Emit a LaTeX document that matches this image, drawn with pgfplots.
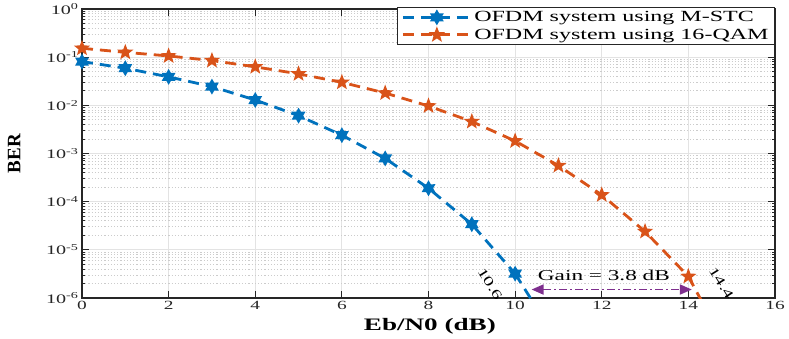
\documentclass[border=0pt]{standalone}
\usepackage{fontspec}
\setmainfont{Liberation Serif}[FakeStretch=1.55]
\newfontfamily\plainserif{Liberation Serif}
\usepackage{pgfplots}
\pgfplotsset{compat=1.18}
\usetikzlibrary{arrows.meta}

\definecolor{mblue}{RGB}{0,114,189}
\definecolor{morange}{RGB}{217,83,25}
\definecolor{mpurple}{RGB}{126,47,142}
\definecolor{maxis}{RGB}{38,38,38}

\pgfdeclareplotmark{fivestar}{%
  \pgfpathmoveto{\pgfpointpolar{90}{\pgfplotmarksize}}%
  \pgfpathlineto{\pgfpointpolar{126}{0.42\pgfplotmarksize}}%
  \pgfpathlineto{\pgfpointpolar{162}{\pgfplotmarksize}}%
  \pgfpathlineto{\pgfpointpolar{198}{0.42\pgfplotmarksize}}%
  \pgfpathlineto{\pgfpointpolar{234}{\pgfplotmarksize}}%
  \pgfpathlineto{\pgfpointpolar{270}{0.42\pgfplotmarksize}}%
  \pgfpathlineto{\pgfpointpolar{306}{\pgfplotmarksize}}%
  \pgfpathlineto{\pgfpointpolar{342}{0.42\pgfplotmarksize}}%
  \pgfpathlineto{\pgfpointpolar{18}{\pgfplotmarksize}}%
  \pgfpathlineto{\pgfpointpolar{54}{0.42\pgfplotmarksize}}%
  \pgfpathclose\pgfusepathqfill}

\pgfdeclareplotmark{sixstar}{%
  \pgfpathmoveto{\pgfpointpolar{90}{\pgfplotmarksize}}%
  \pgfpathlineto{\pgfpointpolar{120}{0.577\pgfplotmarksize}}%
  \pgfpathlineto{\pgfpointpolar{150}{\pgfplotmarksize}}%
  \pgfpathlineto{\pgfpointpolar{180}{0.577\pgfplotmarksize}}%
  \pgfpathlineto{\pgfpointpolar{210}{\pgfplotmarksize}}%
  \pgfpathlineto{\pgfpointpolar{240}{0.577\pgfplotmarksize}}%
  \pgfpathlineto{\pgfpointpolar{270}{\pgfplotmarksize}}%
  \pgfpathlineto{\pgfpointpolar{300}{0.577\pgfplotmarksize}}%
  \pgfpathlineto{\pgfpointpolar{330}{\pgfplotmarksize}}%
  \pgfpathlineto{\pgfpointpolar{0}{0.577\pgfplotmarksize}}%
  \pgfpathlineto{\pgfpointpolar{30}{\pgfplotmarksize}}%
  \pgfpathlineto{\pgfpointpolar{60}{0.577\pgfplotmarksize}}%
  \pgfpathclose\pgfusepathqfill}

\begin{document}
\begin{tikzpicture}
\path[use as bounding box] (-82pt,-40pt) rectangle (707pt,298pt);
\begin{axis}[
  scale only axis,
  width=693pt, height=289pt,
  at={(0,0)}, anchor=south west,
  ymode=log,
  xmin=0, xmax=16, ymin=1e-6, ymax=1,
  xtick={0,2,...,16},
  ytick={1e-6,1e-5,1e-4,1e-3,1e-2,1e-1,1},
  yticklabels={10\textsuperscript{-6},10\textsuperscript{-5},10\textsuperscript{-4},10\textsuperscript{-3},10\textsuperscript{-2},10\textsuperscript{-1},10\textsuperscript{0}},
  /pgf/number format/assume math mode=true,
  tick label style={font=\fontsize{12.5}{14}\selectfont, text=maxis},
  yticklabel style={font=\fontsize{13}{15}\selectfont},
  grid=both,
  major grid style={draw=gray!22, line width=0.9pt},
  minor grid style={draw=gray!40, line width=0.8pt, dash pattern=on 1.2pt off 2pt},
  axis line style={draw=maxis, line width=1.2pt},
  tick style={draw=maxis, line width=1pt},
  tick align=inside,
  major tick length=7pt, minor tick length=3.5pt,
  clip mode=individual,
  xlabel={\bfseries Eb/N0 (dB)},
  ylabel={\plainserif\bfseries BER},
  xlabel style={font=\fontsize{17.5}{20}\selectfont, at={(axis description cs:0.502,0)}, yshift=-28pt, anchor=center},
  ylabel style={font=\fontsize{19}{22}\selectfont, at={(axis description cs:-0.098,0.5)}, anchor=center},
  legend style={at={(rel axis cs:1,1.007)}, anchor=north east, font=\fontsize{15.5}{17}\selectfont,
    draw=maxis, line width=0.8pt, fill=white, inner xsep=4pt, inner ysep=2pt, row sep=1pt},
  legend cell align=left,
  legend image code/.code={\draw[#1, mark repeat=2, mark phase=2] plot coordinates {(0pt,0pt) (34pt,0pt) (68pt,0pt)};},
]
\addplot[mblue, line width=2.8pt, dash pattern=on 11pt off 7pt, mark=sixstar, mark size=8pt,
  mark options={solid}]
  coordinates {(0,0.081) (1,0.059) (2,0.039) (3,0.0245) (4,0.0129) (5,0.0061) (6,0.0024)
    (7,7.9e-4) (8,1.9e-4) (9,3.4e-5) (10,3.2e-6)};
\addlegendentry{OFDM system using M-STC}
\addplot[morange, line width=2.8pt, dash pattern=on 11pt off 7pt, mark=fivestar, mark size=8.5pt,
  mark options={solid}]
  coordinates {(0,0.153) (1,0.126) (2,0.106) (3,0.085) (4,0.063) (5,0.045) (6,0.030)
    (7,0.018) (8,0.0097) (9,0.0046) (10,0.00182) (11,5.6e-4) (12,1.38e-4) (13,2.4e-5) (14,2.8e-6)};
\addlegendentry{OFDM system using 16-QAM}
\addplot[mblue, line width=2.8pt, dash pattern=on 11pt off 7pt, no marks, forget plot]
  coordinates {(10,3.2e-6) (10.6,4.4e-7)};
\addplot[morange, line width=2.8pt, dash pattern=on 11pt off 7pt, no marks, forget plot]
  coordinates {(14,2.8e-6) (14.4,6e-7)};
\draw[mpurple, line width=1.8pt, dash pattern=on 8pt off 3pt on 2pt off 3pt,
  {Triangle[length=12pt,width=10pt]}-{Triangle[length=12pt,width=10pt]}]
  (axis cs:10.38,1.5e-6) -- (axis cs:14.08,1.5e-6);
\node[font=\fontsize{15}{17}\selectfont, text=black] at (axis cs:12.05,2.95e-6) {Gain = 3.8 dB};
\node[font=\fontsize{13}{15}\selectfont, rotate=-58] at (axis cs:9.42,1.97e-6) {10.6};
\node[font=\fontsize{13}{15}\selectfont, rotate=-58] at (axis cs:14.76,2.07e-6) {14.4};
\end{axis}
\end{tikzpicture}
\end{document}
